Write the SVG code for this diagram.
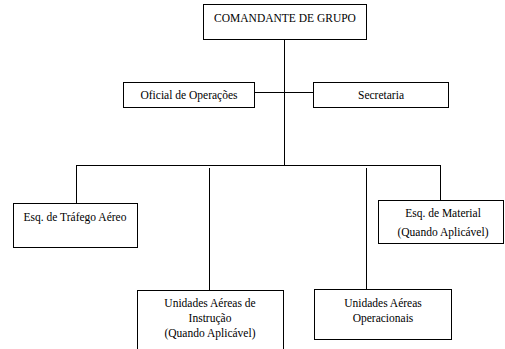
<svg xmlns="http://www.w3.org/2000/svg" width="505" height="349" viewBox="0 0 505 349">
<style>
.box{fill:#fff;stroke:#000;stroke-width:1}
.ln{stroke:#000;stroke-width:1;fill:none}
.t{font-family:"Liberation Serif","Times New Roman",serif;font-size:11.5px;fill:#000;text-anchor:middle}
</style>
<rect width="505" height="349" fill="#fff"/>
<g id="connectors">
<path class="ln" d="M284.5 39 V165.5 M123 92.5 H313 M76.5 165.5 H440.5 M76.5 165 V203 M440.5 165 V200 M209.5 168 V290 M366.5 168 V289"/>
</g>
<g class="t">
<g id="n-comandante"><rect class="box" x="203.5" y="4.5" width="163" height="35"/><text x="285" y="22">COMANDANTE DE GRUPO</text></g>
<g id="n-oficial"><rect class="box" x="123.5" y="82.5" width="131" height="25"/><text x="189" y="99">Oficial de Operações</text></g>
<g id="n-secretaria"><rect class="box" x="313.5" y="82.5" width="135" height="25"/><text x="381" y="99">Secretaria</text></g>
<g id="n-trafego"><rect class="box" x="13.5" y="203.5" width="124" height="44"/><text x="75" y="221">Esq. de Tráfego Aéreo</text></g>
<g id="n-material"><rect class="box" x="378.5" y="200.5" width="125" height="43"/><text x="443" y="217">Esq. de Material</text><text x="443" y="236">(Quando Aplicável)</text></g>
<g id="n-instrucao"><rect class="box" x="137.5" y="290.5" width="146" height="70"/><text x="210" y="307">Unidades Aéreas de</text><text x="210" y="322">Instrução</text><text x="210" y="337">(Quando Aplicável)</text></g>
<g id="n-operacionais"><rect class="box" x="314.5" y="289.5" width="137" height="50"/><text x="383" y="307">Unidades Aéreas</text><text x="383" y="322">Operacionais</text></g>
</g>
</svg>
